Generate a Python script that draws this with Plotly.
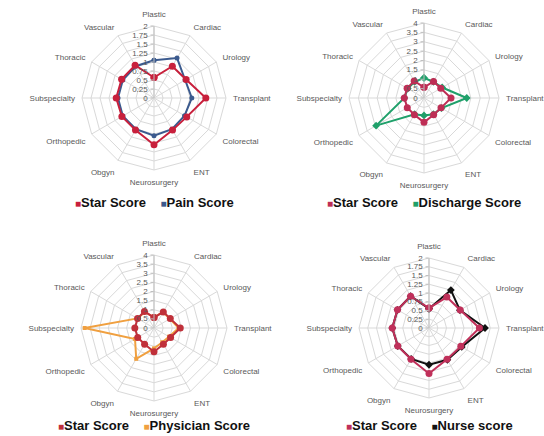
import plotly.graph_objects as go

categories = ["Plastic", "Cardiac", "Urology", "Transplant", "Colorectal", "ENT",
              "Neurosurgery", "Obgyn", "Orthopedic", "Subspecialty", "Thoracic", "Vascular"]

star_score = [0.57, 1.02, 1.03, 1.44, 1.05, 1.03, 1.30, 1.03, 1.03, 1.05, 1.04, 1.05]
pain_score = [1.05, 1.28, 1.00, 1.05, 0.98, 1.00, 1.05, 1.00, 1.00, 1.00, 1.00, 1.02]
discharge_score = [1.07, 1.00, 1.12, 2.28, 1.08, 1.00, 0.93, 1.00, 2.95, 1.05, 1.00, 1.00]
physician_score = [0.60, 1.00, 1.00, 1.35, 0.95, 0.90, 1.12, 1.95, 1.20, 3.80, 1.05, 1.00]
nurse_score = [0.55, 1.25, 1.02, 1.60, 1.08, 1.05, 1.05, 1.02, 1.03, 1.05, 1.04, 1.05]

radial_ranges = [[0, 2], [0, 4], [0, 4], [0, 2]]
radial_dticks = [0.25, 0.5, 0.5, 0.25]

W, H = 544, 436
# (center x, center y, radius) in pixels for each panel
panels = [(154, 98, 72), (424, 98, 75), (154, 328, 73), (429, 328, 70)]
legend_rows = [202, 202, 425, 425]

series = [
    ("Pain Score", pain_score, "#3B5A8E", "circle", 5, "#C8203C"),
    ("Discharge Score", discharge_score, "#1FA06A", "diamond", 6, "#BE2E55"),
    ("Physician Score", physician_score, "#F0A040", "square", 4, "#C0303A"),
    ("Nurse score", nurse_score, "#111111", "diamond", 6, "#C0305A"),
]

fig = go.Figure()

def closed(v):
    return list(v) + [v[0]]

for i, (name, vals, col, sym, msize, starcol) in enumerate(series):
    pid = "polar" if i == 0 else f"polar{i+1}"
    fig.add_trace(go.Scatterpolar(
        r=closed(vals), theta=closed(categories), mode="lines+markers",
        line=dict(color=col, width=2), marker=dict(color=col, size=msize, symbol=sym),
        name=name, subplot=pid, showlegend=False))
    fig.add_trace(go.Scatterpolar(
        r=closed(star_score), theta=closed(categories), mode="lines+markers",
        line=dict(color=starcol, width=2), marker=dict(color=starcol, size=7, symbol="circle"),
        name="Star Score", subplot=pid, showlegend=False))

    cx, cy, rad = panels[i]
    fig.update_layout(**{pid: dict(
        domain=dict(x=[(cx - rad) / W, (cx + rad) / W],
                    y=[1 - (cy + rad) / H, 1 - (cy - rad) / H]),
        bgcolor="white",
        gridshape="linear",
        angularaxis=dict(type="category", rotation=90, direction="clockwise",
                         categoryorder="array", categoryarray=categories,
                         showline=True, linecolor="#D9D9D9", linewidth=1,
                         gridcolor="#D9D9D9", gridwidth=1,
                         ticks="outside", ticklen=5, tickcolor="rgba(0,0,0,0)",
                         tickfont=dict(size=8, color="#595959", family="Liberation Sans")),
        radialaxis=dict(range=radial_ranges[i], dtick=radial_dticks[i], angle=90,
                        side="counterclockwise", showline=True, linecolor="#BFBFBF",
                        linewidth=1, ticks="outside", ticklen=3, tickcolor="#BFBFBF",
                        gridcolor="#D9D9D9", gridwidth=1, tickangle=90,
                        tickfont=dict(size=8, color="#595959", family="Liberation Sans")),
    )})

    sp = "&nbsp;" * 4
    txt = (f'<span style="color:{starcol};font-size:10px">■</span>Star Score{sp}'
           f'<span style="color:{col};font-size:10px">■</span>{name}')
    fig.add_annotation(x=cx / W, y=1 - legend_rows[i] / H, xref="paper", yref="paper",
                       text=f"<b>{txt}</b>", showarrow=False, xanchor="center", yanchor="middle",
                       font=dict(size=13, color="#111111", family="Liberation Sans"))

fig.update_layout(width=W, height=H, margin=dict(l=0, r=0, t=0, b=0),
                  paper_bgcolor="white", showlegend=False)

fig.write_html("out.html")
